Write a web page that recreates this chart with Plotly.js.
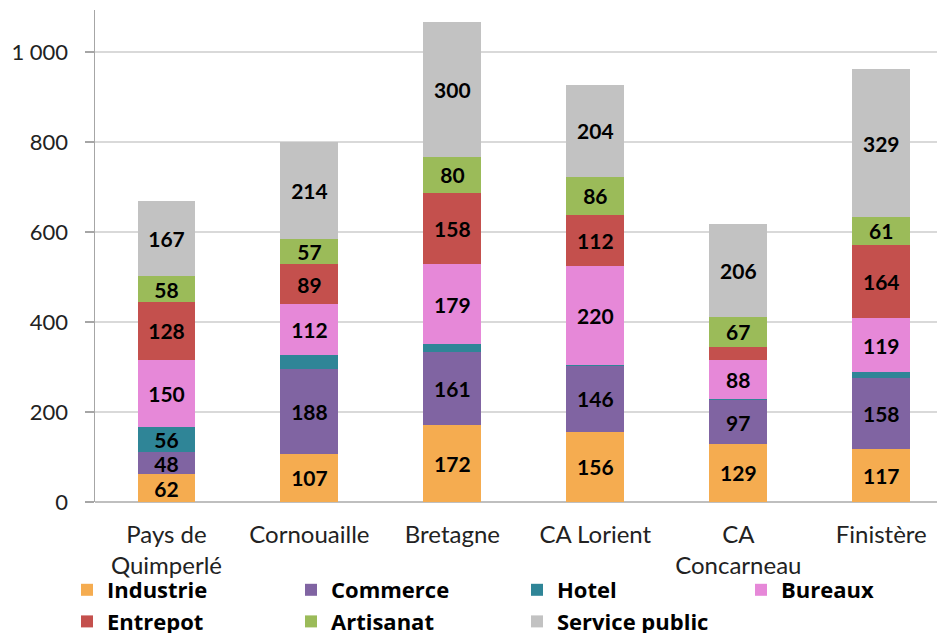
<!DOCTYPE html>
<html><head><meta charset="utf-8">
<script src="https://cdn.plot.ly/plotly-3.0.1.min.js"></script>
<style>html,body{margin:0;padding:0;background:#fff}#c{width:937px;height:633px}</style>
</head><body><div id="c"></div>
<script>
const categories = ["Pays de<br>Quimperlé", "Cornouaille", "Bretagne", "CA Lorient", "CA<br>Concarneau", "Finistère"];
const seriesNames = ["Industrie", "Commerce", "Hotel", "Bureaux", "Entrepot", "Artisanat", "Service public"];
const industrie = [62, 107, 172, 156, 129, 117];
const commerce = [48, 188, 161, 146, 97, 158];
const hotel = [56, 32, 17, 3, 2, 14];
const bureaux = [150, 112, 179, 220, 88, 119];
const entrepot = [128, 89, 158, 112, 29, 164];
const artisanat = [58, 57, 80, 86, 67, 61];
const servicePublic = [167, 214, 300, 204, 206, 329];
const yTicks = [0, 200, 400, 600, 800, 1000];
// labels shown on the reference (false where no label is drawn)
const showLabel = {
  "Hotel": [true, false, false, false, false, false],
  "Entrepot": [true, true, true, true, false, true]
};
const colors = ["#F5AC50", "#8064A2", "#2F8597", "#E688D8", "#C4504D", "#9BBB59", "#C2C2C2"];
const allValues = [industrie, commerce, hotel, bureaux, entrepot, artisanat, servicePublic];
// legend column of each series (4 columns, 2 rows)
const legendOf = ["legend", "legend2", "legend3", "legend4", "legend", "legend2", "legend3"];

const traces = seriesNames.map((name, i) => {
  const vals = allValues[i];
  const flags = showLabel[name];
  return {
    type: "bar",
    name: name,
    legend: legendOf[i],
    x: categories,
    y: vals,
    marker: {color: colors[i], line: {width: 0}},
    text: vals.map((v, j) => (flags && !flags[j]) ? "" : String(v)),
    textposition: "inside",
    insidetextanchor: "middle",
    textangle: 0,
    textfont: {family: "Lato", size: 21, color: "#000", weight: "bold"},
    hoverinfo: "none"
  };
});

const legendBase = (xpx) => ({
  orientation: "v",
  xref: "container", yref: "container",
  x: xpx / 937, xanchor: "left",
  y: 1 - 569 / 633, yanchor: "top",
  itemwidth: 30,
  tracegroupgap: 0,
  traceorder: "normal",
  font: {family: "Open Sans", size: 22, color: "#000", weight: "bold"},
  bgcolor: "rgba(0,0,0,0)",
  borderwidth: 0
});

const layout = {
  width: 937, height: 633,
  margin: {l: 95, r: 0, t: 10, b: 131, autoexpand: false},
  barmode: "stack",
  bargap: 0.595,
  separators: ", ",
  paper_bgcolor: "#fff",
  plot_bgcolor: "#fff",
  font: {family: "Lato", color: "#222"},
  uniformtext: {mode: "show", minsize: 21},
  xaxis: {
    type: "category",
    range: [-0.5, 5.39],
    showgrid: false,
    showline: false,
    zeroline: false,
    ticks: "",
    ticklabelstandoff: 16,
    tickfont: {family: "Lato", size: 24, color: "#222"},
    fixedrange: true
  },
  yaxis: {
    range: [0, 1093],
    tickvals: yTicks,
    tickformat: ",d",
    showgrid: true,
    gridcolor: "#D9D9D9",
    gridwidth: 1.3,
    zeroline: true,
    zerolinecolor: "#BFBFBF",
    zerolinewidth: 1.3,
    showline: true,
    linecolor: "#A6A6A6",
    linewidth: 1.5,
    ticks: "outside",
    ticklen: 9,
    tickcolor: "#A6A6A6",
    tickwidth: 1.3,
    ticklabelstandoff: 12,
    tickfont: {family: "Lato", size: 22, color: "#222"},
    fixedrange: true
  },
  showlegend: true,
  legend: legendBase(67),
  legend2: legendBase(291),
  legend3: legendBase(517),
  legend4: legendBase(741)
};

Plotly.newPlot("c", traces, layout, {displayModeBar: false, staticPlot: true});
</script>
</body></html>
